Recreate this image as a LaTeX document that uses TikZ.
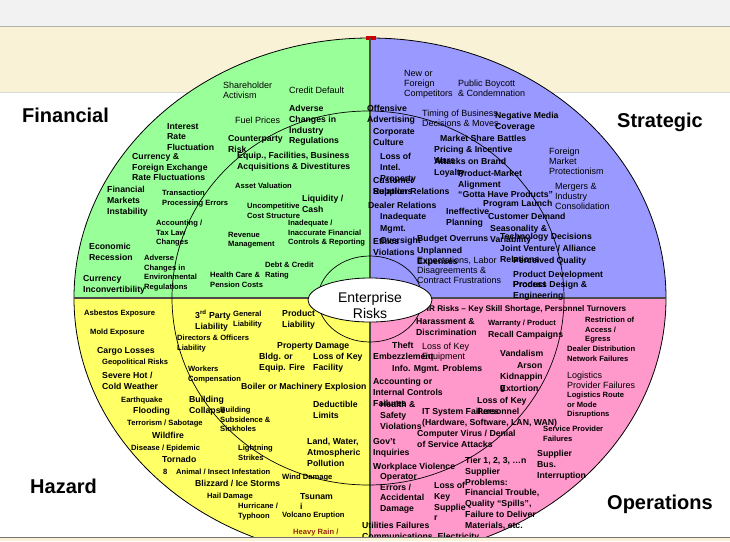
\documentclass[tikz,border=0pt]{standalone}
\usepackage{fontspec}
\setmainfont{Liberation Sans}
\usetikzlibrary{shapes.geometric}
\definecolor{fingreen}{RGB}{153,255,153}
\definecolor{stratblue}{RGB}{153,153,255}
\definecolor{hazyellow}{RGB}{255,255,102}
\definecolor{opspink}{RGB}{255,153,204}
\definecolor{bandbeige}{RGB}{249,242,214}
\definecolor{topgray}{RGB}{242,242,242}
\definecolor{rainred}{RGB}{150,40,20}
\begin{document}
\begin{tikzpicture}[x=1pt,y=-1pt,
  riskbig/.style={anchor=north west, inner sep=0pt, align=left, font=\fontsize{8.7}{10.8}\selectfont\bfseries},
  risksmall/.style={anchor=north west, inner sep=0pt, align=left, font=\fontsize{7.6}{9.5}\selectfont\bfseries},
  riskplain/.style={anchor=north west, inner sep=0pt, align=left, font=\fontsize{9}{10}\selectfont},
  quadlabel/.style={anchor=base west, inner sep=0pt, font=\fontsize{20}{24}\selectfont\bfseries}]
    \useasboundingbox (0,0) rectangle (730,541);
    \fill[topgray] (0,0) rectangle (730,26);
    \fill[bandbeige] (0,26) rectangle (730,92);
    \draw[black!30, line width=1pt] (0,26.5) -- (730,26.5);
    \draw[black!15, line width=0.6pt] (0,92) -- (730,92);
    \begin{scope}
    \clip (0,0) rectangle (730,537);
    \begin{scope}
    \clip (370,298) ellipse [x radius=296pt, y radius=260pt];
    \fill[fingreen] (70,30) rectangle (370,298);
    \fill[stratblue] (370,30) rectangle (670,298);
    \fill[hazyellow] (70,298) rectangle (370,560);
    \fill[opspink] (370,298) rectangle (670,560);
    \end{scope}
    \draw[black, line width=0.8pt] (370,298) ellipse [x radius=296pt, y radius=260pt];
    \fill[red!80!black] (366,36) rectangle (376,40);
    \draw[black!70, line width=1.1pt] (370,38) -- (370,558);
    \draw[black!70, line width=1.1pt] (74,298) -- (666,298);
    \draw[black, line width=0.7pt] (368,298) ellipse [x radius=196pt, y radius=187pt];
    \draw[black, line width=0.7pt] (370,299) ellipse [x radius=52pt, y radius=43pt];
    \node[riskplain] (fa) at (223,82) {Shareholder\\Activism};
    \node[riskplain] (fb) at (289,87) {Credit Default};
    \node[riskbig] (fc) at (289,105) {Adverse\\Changes in\\Industry\\Regulations};
    \node[riskplain] (fd) at (235,117) {Fuel Prices};
    \node[riskbig] (fe) at (228,135) {Counterparty\\Risk};
    \node[riskbig] (ff) at (237,152) {Equip., Facilities, Business\\Acquisitions \& Divestitures};
    \node[risksmall] (fg) at (235,183) {Asset Valuation};
    \node[riskbig] (fh) at (302,195) {Liquidity /\\Cash};
    \node[riskbig] (fi) at (167,123) {Interest\\Rate\\Fluctuation};
    \node[riskbig] (fj) at (132,153) {Currency \&\\Foreign Exchange\\Rate Fluctuations};
    \node[riskbig] (fk) at (107,186) {Financial\\Markets\\Instability};
    \node[risksmall] (fl) at (162,190) {Transaction\\Processing Errors};
    \node[risksmall] (fm) at (156,220) {Accounting /\\Tax Law\\Changes};
    \node[riskbig] (fn) at (89,243) {Economic\\Recession};
    \node[risksmall] (fo) at (144,255) {Adverse\\Changes in\\Environmental\\Regulations};
    \node[riskbig] (fp) at (83,275) {Currency\\Inconvertibility};
    \node[risksmall] (fq) at (247,203) {Uncompetitive\\Cost Structure};
    \node[risksmall] (fr) at (288,220) {Inadequate /\\Inaccurate Financial\\Controls \& Reporting};
    \node[risksmall] (fs) at (228,232) {Revenue\\Management};
    \node[risksmall] (ft) at (265,262) {Debt \& Credit\\Rating};
    \node[risksmall] (fu) at (210,272) {Health Care \&\\Pension Costs};
    \node[riskplain] (sa) at (404,70) {New or\\Foreign\\Competitors};
    \node[riskplain] (sb) at (458,80) {Public Boycott\\\& Condemnation};
    \node[riskbig] (sc) at (367,105) {Offensive\\Advertising};
    \node[riskplain] (sd) at (422,110) {Timing of Business\\Decisions \& Moves};
    \node[riskbig] (se) at (495,112) {Negative Media\\Coverage};
    \node[riskbig] (sf) at (440,135) {Market Share Battles};
    \node[riskbig] (sg) at (373,128) {Corporate\\Culture};
    \node[riskbig] (sh) at (434,146) {Pricing \& Incentive\\Wars};
    \node[riskbig] (si) at (434,158) {Attacks on Brand\\Loyalty};
    \node[riskbig] (sj) at (458,170) {Product-Market\\Alignment};
    \node[riskbig] (sk) at (380,153) {Loss of\\Intel.\\Property};
    \node[riskbig] (sl) at (373,177) {Customer\\Relations};
    \node[riskbig] (sm) at (373,188) {Supplier Relations};
    \node[riskbig] (sn) at (458,191) {“Gotta Have Products”};
    \node[riskbig] (so) at (368,202) {Dealer Relations};
    \node[riskbig] (sp) at (483,200) {Program Launch};
    \node[riskbig, font=\fontsize{8.7}{11.8}\selectfont\bfseries] (sq) at (380,213) {Inadequate\\Mgmt.\\Oversight};
    \node[riskbig] (sr) at (446,208) {Ineffective\\Planning};
    \node[riskbig] (ss) at (488,213) {Customer Demand};
    \node[riskbig] (st) at (490,225) {Seasonality \&\\Variability};
    \node[riskbig] (su) at (500,233) {Technology Decisions};
    \node[riskbig] (sv) at (417,235) {Budget Overruns};
    \node[riskbig] (sw) at (417,247) {Unplanned\\Expenses};
    \node[riskbig] (sx) at (500,245) {Joint Venture / Alliance\\Relations};
    \node[riskbig] (sy) at (513,257) {Perceived Quality};
    \node[riskplain] (sz) at (417,257) {Expectations, Labor\\Disagreements \&\\Contract Frustrations};
    \node[riskbig] (sA) at (513,271) {Product Development};
    \node[riskbig] (sB) at (513,281) {Product};
    \node[riskbig] (sC) at (513,281) {Process Design \&\\Engineering};
    \node[riskplain] (sD) at (549,148) {Foreign\\Market\\Protectionism};
    \node[riskplain] (sE) at (555,183) {Mergers \&\\Industry\\Consolidation};
    \node[riskbig] (sF) at (373,238) {Ethics\\Violations};
    \node[risksmall] (ha) at (84,310) {Asbestos Exposure};
    \node[risksmall] (hb) at (90,329) {Mold Exposure};
    \node[riskbig] (hc) at (97,347) {Cargo Losses};
    \node[risksmall] (hd) at (102,359) {Geopolitical Risks};
    \node[riskbig] (he) at (102,372) {Severe Hot /\\Cold Weather};
    \node[risksmall] (hf) at (121,397) {Earthquake};
    \node[riskbig] (hg) at (133,407) {Flooding};
    \node[risksmall] (hh) at (127,420) {Terrorism / Sabotage};
    \node[riskbig] (hi) at (152,432) {Wildfire};
    \node[risksmall] (hj) at (131,445) {Disease / Epidemic};
    \node[riskbig] (hk) at (162,456) {Tornado};
    \node[risksmall] (hl) at (163,469) {8};
    \node[risksmall] (hm) at (176,469) {Animal / Insect Infestation};
    \node[riskbig] (hn) at (195,480) {Blizzard / Ice Storms};
    \node[risksmall] (ho) at (207,493) {Hail Damage};
    \node[risksmall] (hp) at (238,503) {Hurricane /\\Typhoon};
    \node[risksmall] (hq) at (282,474) {Wind Damage};
    \node[riskbig] (hr) at (300,493) {Tsunam\\i};
    \node[risksmall] (hs) at (282,512) {Volcano Eruption};
    \node[risksmall, text=rainred] (ht) at (293,529) {Heavy Rain /\\Thunderstorms};
    \node[riskbig] (hu) at (195,310) {3\textsuperscript{rd} Party\\Liability};
    \node[risksmall] (hv) at (233,311) {General\\Liability};
    \node[risksmall] (hw) at (177,335) {Directors \& Officers\\Liability};
    \node[riskbig] (hx) at (282,310) {Product\\Liability};
    \node[riskbig] (hy) at (277,342) {Property Damage};
    \node[riskbig] (hz) at (259,353) {Bldg. or\\Equip. Fire};
    \node[riskbig] (hA) at (313,353) {Loss of Key\\Facility};
    \node[risksmall] (hB) at (188,366) {Workers\\Compensation};
    \node[riskbig] (hC) at (241,383) {Boiler or Machinery Explosion};
    \node[riskbig] (hD) at (189,396) {Building\\Collapse};
    \node[risksmall] (hE) at (220,407) {Building\\Subsidence \&\\Sinkholes};
    \node[riskbig] (hF) at (313,401) {Deductible\\Limits};
    \node[risksmall] (hG) at (238,445) {Lightning\\Strikes};
    \node[riskbig] (hH) at (307,438) {Land, Water,\\Atmospheric\\Pollution};
    \node[risksmall, font=\fontsize{8.2}{9.5}\selectfont\bfseries] (oa) at (423,305) {HR Risks – Key Skill Shortage, Personnel Turnovers};
    \node[riskbig] (ob) at (416,318) {Harassment \&\\Discrimination};
    \node[risksmall] (oc) at (488,320) {Warranty / Product};
    \node[riskbig] (od) at (488,331) {Recall Campaigns};
    \node[risksmall] (oe) at (585,317) {Restriction of\\Access /\\Egress};
    \node[risksmall] (of) at (567,346) {Dealer Distribution\\Network Failures};
    \node[riskbig] (og) at (392,342) {Theft};
    \node[riskplain] (oh) at (422,343) {Loss of Key\\Equipment};
    \node[riskbig] (oi) at (373,353) {Embezzlement};
    \node[riskbig] (oj) at (500,350) {Vandalism};
    \node[riskbig] (ok) at (517,362) {Arson};
    \node[riskbig] (ol) at (500,373) {Kidnappin\\g};
    \node[riskbig] (om) at (500,385) {Extortion};
    \node[riskbig] (on) at (392,365) {Info. Mgmt. Problems};
    \node[riskbig] (oo) at (373,378) {Accounting or\\Internal Controls\\Failures};
    \node[riskbig] (op) at (380,401) {Health \&\\Safety\\Violations};
    \node[riskbig] (oq) at (477,397) {Loss of Key\\Personnel};
    \node[riskbig] (orr) at (422,408) {IT System Failures\\(Hardware, Software, LAN, WAN)};
    \node[risksmall] (os) at (543,426) {Service Provider\\Failures};
    \node[riskplain] (ot) at (567,372) {Logistics\\Provider Failures};
    \node[risksmall] (ou) at (567,392) {Logistics Route\\or Mode\\Disruptions};
    \node[riskbig] (ov) at (417,430) {Computer Virus / Denial\\of Service Attacks};
    \node[riskbig] (ow) at (373,438) {Gov't\\Inquiries};
    \node[riskbig] (ox) at (373,463) {Workplace Violence};
    \node[riskbig] (oy) at (465,457) {Tier 1, 2, 3, …n\\Supplier\\Problems:\\Financial Trouble,\\Quality “Spills”,\\Failure to Deliver\\Materials, etc.};
    \node[riskbig] (oz) at (537,450) {Supplier\\Bus.\\Interruption};
    \node[riskbig] (oA) at (380,473) {Operator\\Errors /\\Accidental\\Damage};
    \node[riskbig] (oB) at (434,482) {Loss of\\Key\\Supplie\\r};
    \node[riskbig] (oC) at (362,522) {Utilities Failures\\Communications, Electricity,};
    \node[draw=black, line width=0.8pt, fill=white, ellipse, minimum width=124pt, minimum height=44pt, inner sep=0pt] (core) at (370,300) {};
    \node[anchor=north, inner sep=0pt, align=center, font=\fontsize{14}{16}\selectfont] (coretext) at (370,292) {Enterprise\\Risks};
    \end{scope}
    \node[quadlabel] (fin) at (22,122) {Financial};
    \node[quadlabel] (strat) at (617,127) {Strategic};
    \node[quadlabel] (haz) at (30,493) {Hazard};
    \node[quadlabel] (ops) at (607,509) {Operations};
    \fill[bandbeige] (0,537) rectangle (730,541);
    \draw[black!55, line width=1pt] (0,537.5) -- (730,537.5);
\end{tikzpicture}
\end{document}
